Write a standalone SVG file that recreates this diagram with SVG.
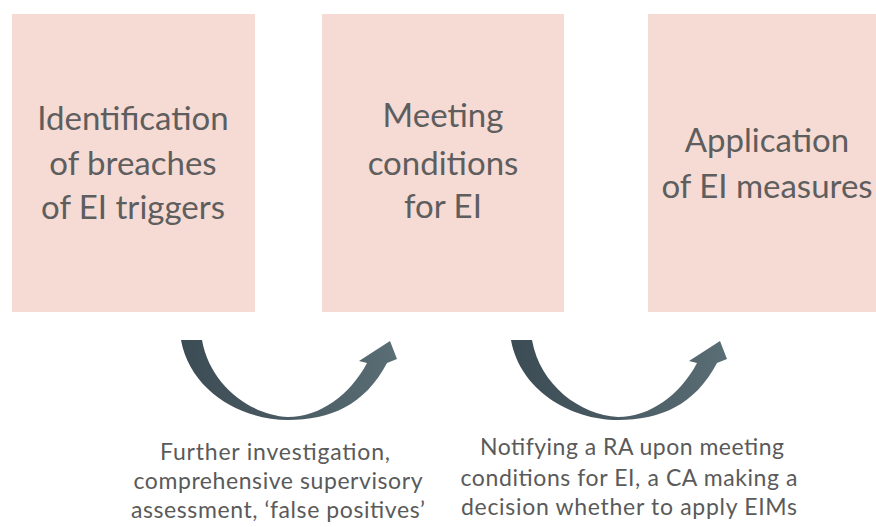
<svg xmlns="http://www.w3.org/2000/svg" width="876" height="527" viewBox="0 0 876 527">
<defs>
<style>
.box{fill:#f6dad4}
.t{font-family:Lato,"Open Sans","Liberation Sans",sans-serif;font-size:33px;fill:#5e5e5e;text-anchor:middle}
.c{font-family:Lato,"Open Sans","Liberation Sans",sans-serif;font-size:23px;fill:#5a5a5a;text-anchor:middle}
.arr{fill:url(#g)}
</style>
<linearGradient id="g" x1="0" y1="0" x2="1" y2="0">
<stop offset="0" stop-color="#3c4c54"/>
<stop offset="0.5" stop-color="#4a5b63"/>
<stop offset="1" stop-color="#5a6e76"/>
</linearGradient>
<path id="arrowShape" d="M181,340 L202,340 C210,385 250,415 288,417 C320,417 350,395 367,363 L359,361 L390,341 L397,359 L387,363 C365,405 330,420 288,420 C240,420 190,390 181,340 Z"/>
</defs>
<rect width="876" height="527" fill="#ffffff"/>
<g id="node1">
<rect class="box" x="12" y="14" width="243" height="298"/>
<text class="t" x="133" y="130">Identification</text>
<text class="t" x="133" y="175">of breaches</text>
<text class="t" x="133" y="219">of EI triggers</text>
</g>
<g id="node2">
<rect class="box" x="322" y="14" width="242" height="298"/>
<text class="t" x="443" y="127">Meeting</text>
<text class="t" x="443" y="175">conditions</text>
<text class="t" x="443" y="218">for EI</text>
</g>
<g id="node3">
<rect class="box" x="648" y="14" width="240" height="298"/>
<text class="t" x="767" y="152">Application</text>
<text class="t" x="767" y="198">of EI measures</text>
</g>
<g id="connectors">
<use href="#arrowShape" class="arr"/>
<use href="#arrowShape" class="arr" transform="translate(330,0)"/>
</g>
<g id="caption1">
<text class="c" x="275" y="460" textLength="230">Further investigation,</text>
<text class="c" x="278" y="489" textLength="289">comprehensive supervisory</text>
<text class="c" x="278" y="518" textLength="294">assessment, ‘false positives’</text>
</g>
<g id="caption2">
<text class="c" x="632" y="455" textLength="304">Notifying a RA upon meeting</text>
<text class="c" x="629" y="486" textLength="337">conditions for EI, a CA making a</text>
<text class="c" x="629" y="515" textLength="336">decision whether to apply EIMs</text>
</g>
</svg>
